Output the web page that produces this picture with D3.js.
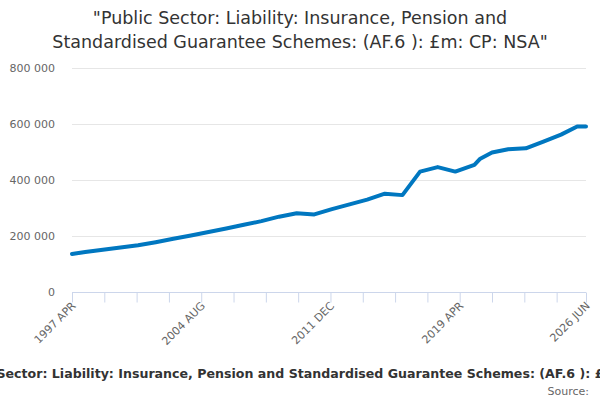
<!DOCTYPE html>
<html>
<head>
<meta charset="utf-8">
<script src="https://cdn.jsdelivr.net/npm/d3@7"></script>
<style>
  body { margin: 0; background: #fff; }
  svg { font-family: "DejaVu Sans", Verdana, sans-serif; }
</style>
</head>
<body>
<div id="chart"></div>
<script>
// data
const dates = ["1997 APR", "1998 JAN", "1999 JAN", "2000 JAN", "2001 JAN", "2002 JAN", "2003 JAN",
  "2004 JAN", "2005 JAN", "2006 JAN", "2007 JAN", "2008 JAN", "2009 JAN", "2010 JAN", "2011 JAN",
  "2012 JAN", "2013 JAN", "2014 JAN", "2015 JAN", "2016 JAN", "2017 JAN", "2018 JAN", "2019 JAN",
  "2020 FEB", "2020 JUN", "2021 FEB", "2022 JAN", "2023 JAN", "2024 JAN", "2025 JAN", "2025 DEC",
  "2026 JUN"];
const values = [136000, 143000, 151000, 159000, 167000, 178000, 190000,
  202000, 214000, 227000, 240000, 253000, 269000, 281000, 277000,
  296000, 313000, 330000, 351000, 346000, 430000, 446000, 430000,
  454000, 476000, 498000, 510000, 513000, 537000, 562000, 591000,
  591000];
const yTicks = [0, 200000, 400000, 600000, 800000];
const xLabels = ["1997 APR", "2004 AUG", "2011 DEC", "2019 APR", "2026 JUN"];

const title = ['"Public Sector: Liability: Insurance, Pension and',
  'Standardised Guarantee Schemes: (AF.6 ): £m: CP: NSA"'];
const axisTitle = "Public Sector: Liability: Insurance, Pension and Standardised Guarantee Schemes: (AF.6 ): £m: CP: NSA";

const months = ["JAN","FEB","MAR","APR","MAY","JUN","JUL","AUG","SEP","OCT","NOV","DEC"];
function monthIndex(s) {
  const p = s.split(" ");
  return (+p[0] - 1997) * 12 + months.indexOf(p[1]) - 3;
}
function monthLabel(i) {
  const m = i + 3;
  return (1997 + Math.floor(m / 12)) + " " + months[m % 12];
}

const width = 600, height = 400;
const margin = {top: 68, right: 14, bottom: 108, left: 72};

const data = dates.map((d, i) => ({i: monthIndex(d), v: values[i]}));
const lastIdx = monthIndex(dates[dates.length - 1]);

const x = d3.scaleLinear().domain([0, lastIdx]).range([margin.left, width - margin.right]);
const y = d3.scaleLinear().domain([0, 800000]).range([height - margin.bottom, margin.top]);

const svg = d3.select("#chart").append("svg")
  .attr("width", width).attr("height", height);

// title
svg.append("text")
  .attr("text-anchor", "middle")
  .style("font-size", "17.5px")
  .style("fill", "#333333")
  .selectAll("tspan")
  .data(title)
  .join("tspan")
  .attr("x", width / 2)
  .attr("y", (d, i) => 24 + i * 24)
  .text(d => d);

// grid lines
svg.append("g")
  .selectAll("line")
  .data(yTicks.filter(d => d > 0))
  .join("line")
  .attr("x1", margin.left).attr("x2", width - margin.right)
  .attr("y1", d => y(d) + 0.5).attr("y2", d => y(d) + 0.5)
  .attr("stroke", "#e6e6e6");

// y labels
const fmt = d3.format(",");
svg.append("g")
  .selectAll("text")
  .data(yTicks)
  .join("text")
  .attr("x", margin.left - 17)
  .attr("y", d => y(d) + 4)
  .attr("text-anchor", "end")
  .style("font-size", "11px")
  .style("fill", "#666666")
  .text(d => fmt(d).replace(/,/g, " "));

// x axis
const tickVals = d3.range(0, lastIdx - 10, 22).concat([lastIdx]);
const xAxis = d3.axisBottom(x)
  .tickValues(tickVals)
  .tickSize(10)
  .tickFormat(d => xLabels.includes(monthLabel(d)) ? monthLabel(d) : "");

const gx = svg.append("g")
  .attr("transform", `translate(0,${height - margin.bottom + 0.5})`)
  .call(xAxis);
gx.select(".domain").attr("stroke", "#ccd6eb").attr("d", `M${margin.left},0H${width - margin.right}`);
gx.selectAll(".tick line").attr("stroke", "#ccd6eb");
gx.selectAll(".tick text")
  .style("font-size", "11px")
  .style("fill", "#666666")
  .style("font-family", "DejaVu Sans, sans-serif")
  .attr("text-anchor", "end")
  .attr("dy", null)
  .attr("y", 0)
  .attr("transform", "translate(4,14) rotate(-45)");

// line
svg.append("path")
  .datum(data)
  .attr("fill", "none")
  .attr("stroke", "#0077c0")
  .attr("stroke-width", 4)
  .attr("stroke-linejoin", "round")
  .attr("stroke-linecap", "round")
  .attr("d", d3.line().x(d => x(d.i)).y(d => y(d.v)));

// axis title (wider than the picture, cut at both edges as in the reference)
svg.append("text")
  .attr("x", 316)
  .attr("y", 378)
  .attr("text-anchor", "middle")
  .style("font-size", "12.6px")
  .style("font-weight", "bold")
  .style("fill", "#333333")
  .text(axisTitle);

// source
svg.append("text")
  .attr("x", 589)
  .attr("y", 395)
  .attr("text-anchor", "end")
  .style("font-size", "11px")
  .style("fill", "#666666")
  .text("Source:");
</script>
</body>
</html>
